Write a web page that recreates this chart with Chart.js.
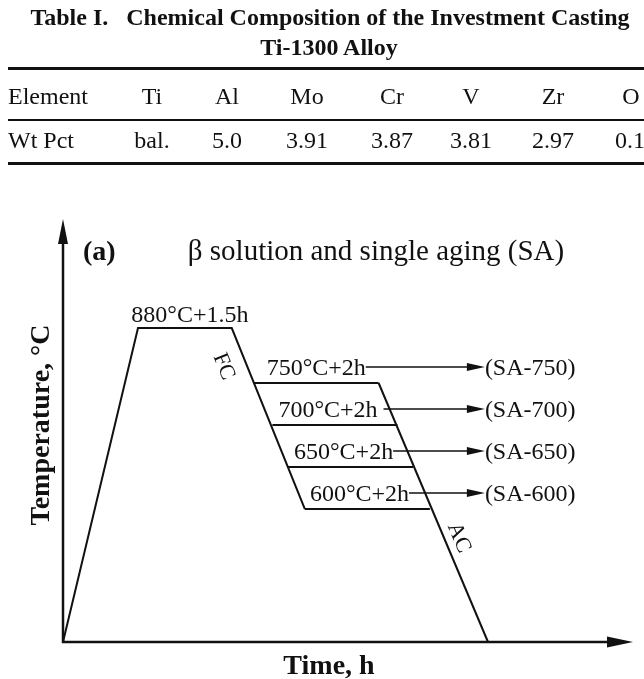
<!DOCTYPE html>
<html>
<head>
<meta charset="utf-8">
<script src="https://cdn.jsdelivr.net/npm/chart.js@4.4.1/dist/chart.umd.min.js"></script>
<style>
  html, body { margin: 0; padding: 0; background: #fff; }
  #page { position: relative; width: 644px; height: 679px; overflow: hidden; background: #fff; }
  #chart { position: absolute; left: 0; top: 0; }
  .t { position: absolute; white-space: pre; font-family: 'Liberation Serif', 'Times New Roman', serif;
       color: #111; font-size: 24px; line-height: 24px; }
  .b { font-weight: bold; }
  .c { transform: translateX(-50%); }
  .rule { position: absolute; left: 8px; right: 0; background: #111; }
</style>
</head>
<body>
<div id="page">
  <canvas id="chart" width="644" height="679"></canvas>
  <div id="table"></div>
</div>
<script>
// ---- Table I: composition of the cast Ti-1300 alloy ----
const tableTitle = ['Table I.   Chemical Composition of the Investment Casting', 'Ti-1300 Alloy'];
const elementRow = ['Element', 'Ti', 'Al', 'Mo', 'Cr', 'V', 'Zr', 'O'];
const wtPctRow   = ['Wt Pct', 'bal.', '5.0', '3.91', '3.87', '3.81', '2.97', '0.1'];

// ---- Heat-treatment schedule: beta solution + single aging ----
const roomTemp      = 25;     // °C, start and end of the cycle
const solutionTemp  = 880;    // °C
const solutionStart = 1.2;    // h, end of heating ramp
const solutionHours = 1.5;    // h
const holdTemps     = [750, 700, 650, 600];       // °C, aging temperatures
const holdStart     = [3.05, 3.35, 3.6, 3.87];    // h, where furnace cooling reaches each aging temperature
const holdHours     = [2, 2, 2, 2];               // h, aging time
const sampleNames   = ['(SA-750)', '(SA-700)', '(SA-650)', '(SA-600)'];
const airCoolEnd    = 6.8;    // h, air cooling back to room temperature

// ---------------------------------------------------------------
// table markup
(function buildTable() {
  const host = document.getElementById('table');
  const colX = [null, 152, 227, 307, 392, 471, 553, 631];
  const add = (txt, cls, style) => {
    const d = document.createElement('div');
    d.className = 't ' + cls;
    d.textContent = txt;
    Object.assign(d.style, style);
    host.appendChild(d);
  };
  add(tableTitle[0], 'b c', { left: '330px', top: '5px' });
  add(tableTitle[1], 'b c', { left: '329px', top: '35px' });
  [[67, 3], [119, 2], [161.5, 3]].forEach(([top, h]) => {
    const r = document.createElement('div');
    r.className = 'rule';
    r.style.top = top + 'px';
    r.style.height = h + 'px';
    host.appendChild(r);
  });
  [[elementRow, 84], [wtPctRow, 128]].forEach(([row, top]) => {
    row.forEach((txt, i) => {
      if (i === 0) add(txt, '', { left: '8px', top: top + 'px' });
      else if (i === row.length - 1 && row === wtPctRow) add(txt, '', { left: '615px', top: top + 'px' });
      else add(txt, 'c', { left: colX[i] + 'px', top: top + 'px' });
    });
  });
})();

// ---------------------------------------------------------------
// Schematic temperature axis: piecewise-linear between the levels of interest
const TEMP_AXIS_STOPS = [[25, 0], [600, 0.3144], [750, 0.6123], [880, 0.7423], [1000, 1]];

class SchematicScale extends Chart.LinearScale {
  toDecimal(v) {
    const s = TEMP_AXIS_STOPS;
    if (v <= s[0][0]) return s[0][1];
    for (let i = 1; i < s.length; i++) {
      if (v <= s[i][0]) {
        const [v0, d0] = s[i - 1], [v1, d1] = s[i];
        return d0 + (v - v0) / (v1 - v0) * (d1 - d0);
      }
    }
    return s[s.length - 1][1];
  }
  fromDecimal(d) {
    const s = TEMP_AXIS_STOPS;
    for (let i = 1; i < s.length; i++) {
      if (d <= s[i][1]) {
        const [v0, d0] = s[i - 1], [v1, d1] = s[i];
        return v0 + (d - d0) / (d1 - d0) * (v1 - v0);
      }
    }
    return s[s.length - 1][0];
  }
  getPixelForValue(value) { return this.getPixelForDecimal(this.toDecimal(value)); }
  getValueForPixel(pixel) { return this.fromDecimal(this.getDecimalForPixel(pixel)); }
}
SchematicScale.id = 'schematic';
SchematicScale.defaults = Chart.LinearScale.defaults;
Chart.register(SchematicScale);

const INK = '#111';
const SERIF = "'Liberation Serif', 'Times New Roman', serif";

function seg(points) {
  return {
    data: points, showLine: true, borderColor: INK, borderWidth: 2,
    pointRadius: 0, pointHoverRadius: 0, tension: 0, clip: false,
    borderJoinStyle: 'miter', borderCapStyle: 'butt'
  };
}

const solutionEnd = solutionStart + solutionHours;
const datasets = [
  // heating, solution hold, furnace cooling
  seg([
    { x: 0, y: roomTemp },
    { x: solutionStart, y: solutionTemp },
    { x: solutionEnd, y: solutionTemp },
    { x: holdStart[holdStart.length - 1], y: holdTemps[holdTemps.length - 1] }
  ]),
  // aging holds
  ...holdTemps.map((t, i) => seg([
    { x: holdStart[i], y: t },
    { x: holdStart[i] + holdHours[i], y: t }
  ])),
  // air cooling
  seg([
    { x: holdStart[0] + holdHours[0], y: holdTemps[0] },
    { x: airCoolEnd, y: roomTemp }
  ])
];

function arrowHead(ctx, tx, ty, dx, dy, len, half) {
  const bx = tx - dx * len, by = ty - dy * len;
  ctx.beginPath();
  ctx.moveTo(tx, ty);
  ctx.lineTo(bx - dy * half, by + dx * half);
  ctx.lineTo(bx + dy * half, by - dx * half);
  ctx.closePath();
  ctx.fill();
}

const decor = {
  id: 'decor',
  afterDatasetsDraw(chart) {
    const { ctx, scales: { x, y } } = chart;
    ctx.save();
    ctx.strokeStyle = INK;
    ctx.fillStyle = INK;

    // axes with arrows
    const ox = x.getPixelForValue(0), oy = y.getPixelForValue(roomTemp);
    const yTop = y.getPixelForValue(y.max), xEnd = x.getPixelForValue(x.max);
    ctx.lineWidth = 2.5;
    ctx.beginPath();
    ctx.moveTo(ox, yTop + 20);
    ctx.lineTo(ox, oy);
    ctx.lineTo(xEnd - 20, oy);
    ctx.stroke();
    arrowHead(ctx, ox, yTop, 0, -1, 25, 5);
    arrowHead(ctx, xEnd, oy, 1, 0, 26, 5.5);

    // axis titles
    ctx.font = 'bold 28px ' + SERIF;
    ctx.textAlign = 'center';
    ctx.textBaseline = 'alphabetic';
    ctx.fillText('Time, h', 329, 674);
    ctx.save();
    ctx.translate(49, 425);
    ctx.rotate(-Math.PI / 2);
    ctx.fillText('Temperature, °C', 0, 0);
    ctx.restore();

    // panel tag and heading
    ctx.textAlign = 'left';
    ctx.fillText('(a)', 83, 260);
    ctx.font = '29px ' + SERIF;
    ctx.textAlign = 'center';
    ctx.fillText('β solution and single aging (SA)', 376, 260);

    // solution label
    ctx.font = '24px ' + SERIF;
    const sy = y.getPixelForValue(solutionTemp);
    const sxMid = x.getPixelForValue(solutionStart + solutionHours / 2);
    ctx.fillText(`${solutionTemp}°C+${solutionHours}h`, sxMid + 5, sy - 6);

    // aging labels with arrows to the sample names
    const labelInset = [13, 6, 6, 5];
    const lineGap = [0, 6, 0, 0];
    const tipX = x.getPixelForValue(6.75);
    ctx.textAlign = 'left';
    holdTemps.forEach((t, i) => {
      const hy = y.getPixelForValue(t);
      const base = hy - 8;
      const txt = `${t}°C+${holdHours[i]}h`;
      const tx = x.getPixelForValue(holdStart[i]) + labelInset[i];
      ctx.fillText(txt, tx, base);
      const ay = base - 8;
      const startX = tx + ctx.measureText(txt).width + lineGap[i];
      ctx.lineWidth = 1.6;
      ctx.beginPath();
      ctx.moveTo(startX, ay);
      ctx.lineTo(tipX - 16, ay);
      ctx.stroke();
      arrowHead(ctx, tipX, ay, 1, 0, 18, 4);
      ctx.fillText(sampleNames[i], tipX, base);
    });

    // cooling labels, written along their lines
    const along = (p0, p1, f, off, text) => {
      const dx = p1.x - p0.x, dy = p1.y - p0.y, L = Math.hypot(dx, dy);
      const ux = dx / L, uy = dy / L;
      const cx = p0.x + dx * f + uy * off, cy = p0.y + dy * f - ux * off;
      ctx.save();
      ctx.translate(cx, cy);
      ctx.rotate(Math.atan2(dy, dx));
      ctx.textAlign = 'center';
      ctx.fillText(text, 0, 22 * 0.33);
      ctx.restore();
    };
    ctx.font = '22px ' + SERIF;
    const fc0 = { x: x.getPixelForValue(solutionEnd), y: sy };
    const fc1 = { x: x.getPixelForValue(holdStart[3]), y: y.getPixelForValue(holdTemps[3]) };
    along(fc0, fc1, 0.167, -20.5, 'FC');
    const ac0 = { x: x.getPixelForValue(holdStart[0] + holdHours[0]), y: y.getPixelForValue(holdTemps[0]) };
    const ac1 = { x: x.getPixelForValue(airCoolEnd), y: oy };
    along(ac0, ac1, 0.618, 15.2, 'AC');

    ctx.restore();
  }
};

new Chart(document.getElementById('chart'), {
  type: 'scatter',
  data: { datasets },
  options: {
    responsive: false,
    animation: false,
    devicePixelRatio: 1,
    layout: { padding: { left: 63, right: 11, top: 219, bottom: 37 } },
    scales: {
      x: { type: 'linear', min: 0, max: 9.12, display: false },
      y: { type: 'schematic', min: 25, max: 1000, display: false }
    },
    plugins: { legend: { display: false }, tooltip: { enabled: false }, title: { display: false } },
    events: []
  },
  plugins: [decor]
});
</script>
</body>
</html>
